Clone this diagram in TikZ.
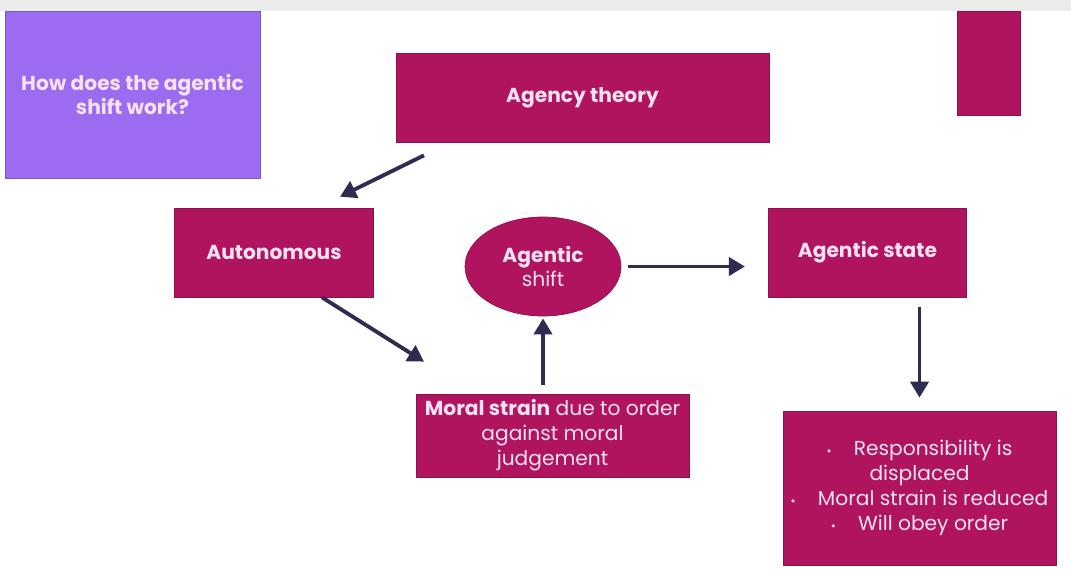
\documentclass[tikz,border=0pt]{standalone}
\usepackage{fontspec}
\setmainfont{Poppins}
\usetikzlibrary{arrows.meta,shapes.geometric,positioning}
\definecolor{slidemagenta}{HTML}{B0145F}
\definecolor{slideedge}{HTML}{8E0F4C}
\definecolor{slidepurple}{HTML}{9B6CF0}
\definecolor{purpleedge}{HTML}{7B58C8}
\definecolor{arrownavy}{HTML}{2F2C52}
\definecolor{textpink}{HTML}{F8E1F0}
\newcommand{\slidebullet}{{\scriptsize•}\hspace{1.1em}}
\tikzset{%
  >={Triangle[width=3.6mm,length=3.2mm]},
  % Specifications for style of nodes:
          base/.style = {rectangle, draw=slideedge, line width=0.4pt,
                         fill=slidemagenta, text=textpink, align=center,
                         inner sep=2pt, font=\fontsize{11.5}{14.2}\selectfont},
      question/.style = {base, draw=purpleedge, fill=slidepurple,
                         minimum width=5.1cm, minimum height=3.34cm},
       mainbox/.style = {base, minimum width=3.97cm, minimum height=1.78cm},
     shiftoval/.style = {base, ellipse, minimum width=3.12cm, minimum height=1.98cm},
    detailsbox/.style = {base, minimum width=5.46cm},
      slidearr/.style = {->, draw=arrownavy, line width=2.2pt},
}

\begin{document}
\begin{tikzpicture}
  \useasboundingbox (0,0) rectangle (21.42,-11.48);
  \fill[gray!16] (0,0) rectangle (21.42,-0.22);

  % Specification of nodes (position, etc.)
  \node (question)   [question] at (2.65,-1.89)   {\bfseries How does the agentic\\\bfseries shift work?};
  \node (corner)     [base, minimum width=1.26cm, minimum height=2.08cm] at (19.77,-1.26) {};
  \node (agency)     [mainbox, minimum width=7.46cm] at (11.65,-1.95) {\bfseries Agency theory};
  \node (autonomous) [mainbox] at (5.48,-5.05)   {\bfseries Autonomous};
  \node (shift)      [shiftoval] at (10.86,-5.33) {\bfseries Agentic\\shift};
  \node (state)      [mainbox] at (17.35,-5.05)  {\bfseries Agentic state};
  \node (strain)     [detailsbox, minimum height=1.66cm] at (11.05,-8.71)
  {\textbf{Moral strain} due to order\\against moral\\judgement};
  \node (result)     [detailsbox, minimum height=3.08cm] at (18.39,-9.76)
  {\slidebullet Responsibility is\\displaced\\\slidebullet Moral strain is reduced\\\slidebullet Will obey order};

  % Specification of lines between nodes specified above
  \draw[slidearr] ([xshift=-3.17cm,yshift=-0.26cm]agency.south)
               -- ([xshift=1.32cm,yshift=0.22cm]autonomous.north);
  \draw[slidearr] ([xshift=0.96cm]autonomous.south)
               -- ([xshift=-2.57cm,yshift=0.64cm]strain.north);
  \draw[slidearr] ([yshift=0.18cm]strain.north -| shift) -- ([yshift=-0.04cm]shift.south);
  \draw[slidearr] ([xshift=0.14cm]shift.east) -- ([xshift=-0.46cm]state.west |- shift.east);
  \draw[slidearr] ([yshift=-0.2cm]state.south -| result) -- ([yshift=0.26cm]result.north);
\end{tikzpicture}
\end{document}
